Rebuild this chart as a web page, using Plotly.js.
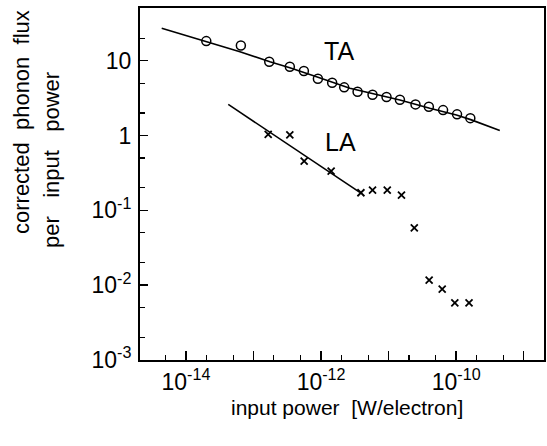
<!DOCTYPE html>
<html>
<head>
<meta charset="utf-8">
<script src="https://cdn.plot.ly/plotly-3.0.1.min.js"></script>
<style>html,body{margin:0;padding:0;background:#fff;}#chart{width:547px;height:446px;}</style>
</head>
<body>
<div id="chart"></div>
<script>
// TA data (open circles)
const taPower = [2.0e-14, 6.5e-14, 1.71e-13, 3.45e-13, 5.57e-13, 8.98e-13, 1.46e-12, 2.20e-12, 3.47e-12, 5.78e-12, 9.31e-12, 1.47e-11, 2.50e-11, 3.94e-11, 6.40e-11, 1.03e-10, 1.62e-10];
const taFlux  = [18.3, 16.0, 9.7, 8.3, 7.3, 5.74, 5.08, 4.41, 3.85, 3.51, 3.27, 3.01, 2.61, 2.43, 2.19, 1.92, 1.71];
// TA fitted curve
const taFitPower = [4.38e-15, 2.02e-14, 6.30e-14, 1.75e-13, 3.45e-13, 8.57e-13, 2.67e-12, 1.47e-11, 4.06e-11, 1.01e-10, 1.68e-10, 4.42e-10];
const taFitFlux  = [27.1, 17.9, 13.2, 9.70, 8.05, 6.11, 4.28, 2.99, 2.31, 1.88, 1.62, 1.17];
// LA data (crosses)
const laPower = [1.65e-13, 3.45e-13, 5.62e-13, 1.41e-12, 3.89e-12, 5.78e-12, 9.55e-12, 1.55e-11, 2.40e-11, 3.98e-11, 6.21e-11, 9.55e-11, 1.55e-10];
const laFlux  = [1.04, 1.02, 0.456, 0.335, 0.172, 0.187, 0.187, 0.160, 0.0585, 0.0117, 0.00887, 0.00582, 0.00582];
// LA fitted line
const laFitPower = [4.23e-14, 3.75e-12];
const laFitFlux  = [2.61, 0.174];

// tick labels
const xTickVals = [1e-14, 1e-13, 1e-12, 1e-11, 1e-10, 1e-9];
const xTickText = ['10<sup>-14</sup>', '', '10<sup>-12</sup>', '', '10<sup>-10</sup>', ''];
const yTickVals = [1e-3, 1e-2, 1e-1, 1, 10];
const yTickText = ['10<sup>-3</sup>', '10<sup>-2</sup>', '10<sup>-1</sup>', '1', '10'];
const minorMult = [2, 5];

function minorTicks(lo, hi) {
  const out = [];
  for (let e = lo; e <= hi; e++) minorMult.forEach(m => out.push(m * Math.pow(10, e)));
  return out;
}

const FONT = '"Liberation Sans", Arial, Helvetica, sans-serif';

const traces = [
  {x: taFitPower, y: taFitFlux, mode: 'lines', line: {color: '#000', width: 1.6}, hoverinfo: 'skip'},
  {x: laFitPower, y: laFitFlux, mode: 'lines', line: {color: '#000', width: 1.6}, hoverinfo: 'skip'},
  {x: taPower, y: taFlux, mode: 'markers',
   marker: {symbol: 'circle-open', size: 9, color: '#000', line: {width: 1.5, color: '#000'}}},
  {x: laPower, y: laFlux, mode: 'markers',
   marker: {symbol: 'x-thin-open', size: 7, color: '#000', line: {width: 1.8, color: '#000'}}}
];

const layout = {
  width: 547, height: 446,
  margin: {l: 140, r: 3, t: 8, b: 86},
  paper_bgcolor: '#fff', plot_bgcolor: '#fff',
  showlegend: false,
  font: {family: FONT, color: '#000', size: 22},
  xaxis: {
    type: 'log', range: [-14.68, -8.70],
    showgrid: false, zeroline: false,
    showline: true, linecolor: '#000', linewidth: 2, mirror: true,
    ticks: 'inside', ticklen: 9, tickwidth: 1.5, tickcolor: '#000',
    tickmode: 'array', tickvals: xTickVals, ticktext: xTickText,
    tickfont: {family: FONT, size: 23, color: '#000'},
    minor: {tickmode: 'array', tickvals: minorTicks(-15, -9), ticks: 'inside', ticklen: 5, tickwidth: 1.2, tickcolor: '#000', showgrid: false}
  },
  yaxis: {
    type: 'log', range: [-3, 1.705],
    showgrid: false, zeroline: false,
    showline: true, linecolor: '#000', linewidth: 2, mirror: true,
    ticks: 'inside', ticklen: 8, tickwidth: 1.5, tickcolor: '#000',
    tickmode: 'array', tickvals: yTickVals, ticktext: yTickText,
    tickfont: {family: FONT, size: 23, color: '#000'},
    ticklabelstandoff: 2,
    minor: {tickmode: 'array', tickvals: minorTicks(-3, 1), ticks: 'inside', ticklen: 5, tickwidth: 1.2, tickcolor: '#000', showgrid: false}
  },
  annotations: [
    {text: 'TA', xref: 'paper', yref: 'paper', x: (339 - 140) / 404, y: (360 - 51) / 352,
     showarrow: false, xanchor: 'center', yanchor: 'middle', font: {family: FONT, size: 25, color: '#000'}},
    {text: 'LA', xref: 'paper', yref: 'paper', x: (340 - 140) / 404, y: (360 - 142) / 352,
     showarrow: false, xanchor: 'center', yanchor: 'middle', font: {family: FONT, size: 25, color: '#000'}},
    {text: 'corrected  phonon  flux', xref: 'paper', yref: 'paper', x: (21 - 140) / 404, y: (360 - 122) / 352,
     textangle: -90, showarrow: false, xanchor: 'center', yanchor: 'middle', font: {family: FONT, size: 22, color: '#000'}},
    {text: 'per   input   power', xref: 'paper', yref: 'paper', x: (52 - 140) / 404, y: (360 - 160) / 352,
     textangle: -90, showarrow: false, xanchor: 'center', yanchor: 'middle', font: {family: FONT, size: 22, color: '#000'}},
    {text: 'input power  [W/electron]', xref: 'paper', yref: 'paper', x: (347 - 140) / 404, y: (360 - 408) / 352,
     showarrow: false, xanchor: 'center', yanchor: 'middle', font: {family: FONT, size: 21, color: '#000'}}
  ]
};

Plotly.newPlot('chart', traces, layout, {staticPlot: true, displayModeBar: false});
</script>
</body>
</html>
